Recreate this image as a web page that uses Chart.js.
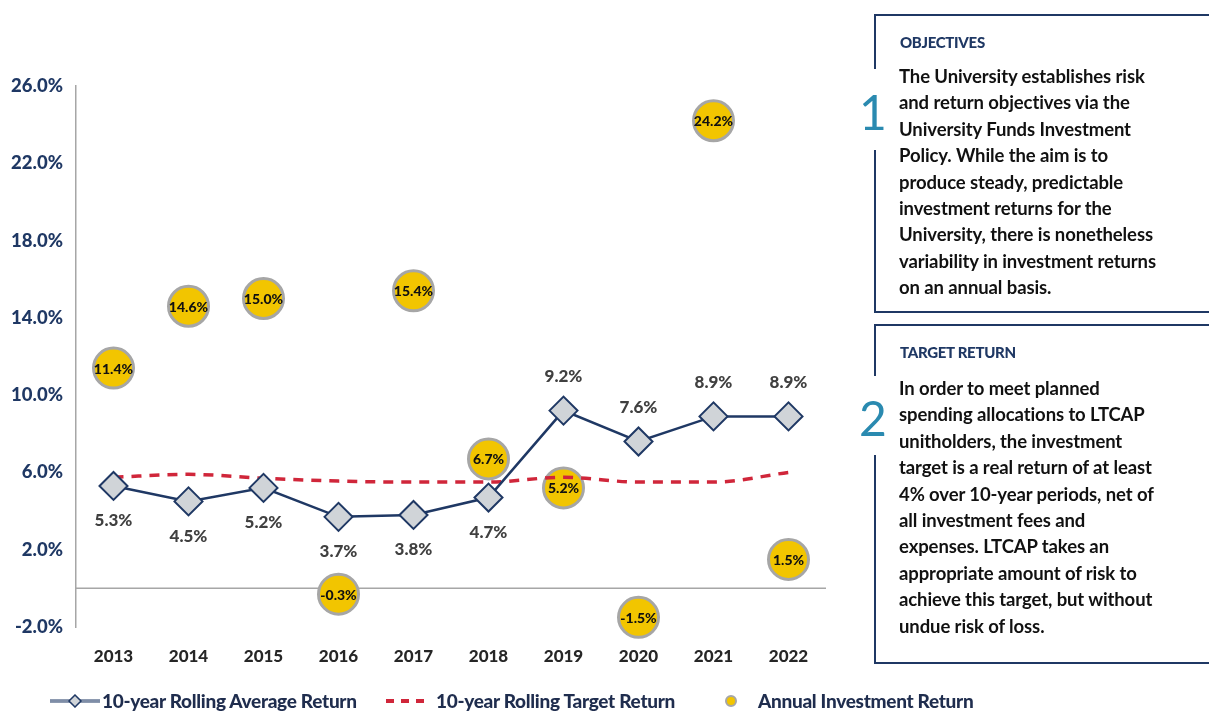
<!DOCTYPE html>
<html>
<head>
<meta charset="utf-8">
<script src="https://cdn.jsdelivr.net/npm/chart.js@4.4.0/dist/chart.umd.min.js"></script>
<style>
  html, body { margin: 0; padding: 0; background: #fff; }
  #wrap { position: relative; width: 1209px; height: 719px; overflow: hidden; font-family: Lato, "Open Sans", sans-serif; }
  #chart { position: absolute; left: 0; top: 0; }
  .box { position: absolute; left: 874px; width: 335px; border-top: 2px solid #1f3864; border-bottom: 2px solid #1f3864; box-sizing: border-box; }
  .edge { position: absolute; left: 874px; width: 2px; background: #1f3864; }
  .head { position: absolute; left: 900px; font-weight: 900; font-size: 15px; color: #1f3864; letter-spacing: -0.3px; }
  .body { position: absolute; left: 899px; font-weight: 700; font-size: 18.5px; line-height: 26.4px; color: #111; white-space: nowrap; letter-spacing: -0.1px; }
  .num { position: absolute; font-weight: 400; font-size: 48px; color: #2a8ab0; }
  .legend { position: absolute; top: 689px; font-weight: 900; font-size: 19px; color: #1f2d4e; white-space: nowrap; letter-spacing: -0.3px; }
</style>
</head>
<body>
<div id="wrap">
  <canvas id="chart" width="1209" height="719"></canvas>

  <div class="box" style="top:14px;height:299px;border-left:none;"></div>
  <div class="edge" style="top:14px;height:55px;"></div>
  <div class="edge" style="top:150px;height:163px;"></div>
  <div class="head" style="top:33px;">OBJECTIVES</div>
  <div class="num" style="left:859px;top:83px;">1</div>
  <div class="body" style="top:63px;">The University establishes risk<br>and return objectives via the<br>University Funds Investment<br>Policy. While the aim is to<br>produce steady, predictable<br>investment returns for the<br>University, there is nonetheless<br>variability in investment returns<br>on an annual basis.</div>

  <div class="box" style="top:324px;height:340px;"></div>
  <div class="edge" style="top:324px;height:52px;"></div>
  <div class="edge" style="top:455px;height:209px;"></div>
  <div class="head" style="top:343px;">TARGET RETURN</div>
  <div class="num" style="left:859px;top:389px;">2</div>
  <div class="body" style="top:375px;">In order to meet planned<br>spending allocations to LTCAP<br>unitholders, the investment<br>target is a real return of at least<br>4% over 10-year periods, net of<br>all investment fees and<br>expenses. LTCAP takes an<br>appropriate amount of risk to<br>achieve this target, but without<br>undue risk of loss.</div>

  <div class="legend" style="left:50px;">
    <svg width="52" height="14" style="vertical-align:0px"><line x1="0" y1="7" x2="50" y2="7" stroke="#1f3864" stroke-width="3"/><line x1="0" y1="7" x2="50" y2="7" stroke="#dfe3ea" stroke-width="1"/><polygon points="25,1 31,7 25,13 19,7" fill="#d0d4d8" stroke="#1f3864" stroke-width="1.5"/></svg>10-year Rolling Average Return
  </div>
  <div class="legend" style="left:384px;">
    <svg width="52" height="14" style="vertical-align:0px"><line x1="2" y1="7" x2="44" y2="7" stroke="#d0263a" stroke-width="4" stroke-dasharray="8,7"/></svg>10-year Rolling Target Return
  </div>
  <div class="legend" style="left:722px;">
    <svg width="36" height="14" style="vertical-align:0px"><circle cx="9" cy="7" r="5" fill="#f2c500" stroke="#a6a6a6" stroke-width="2"/></svg>Annual Investment Return
  </div>
</div>

<script>
const years = ['2013', '2014', '2015', '2016', '2017', '2018', '2019', '2020', '2021', '2022'];
const rollingAverage = [5.3, 4.5, 5.2, 3.7, 3.8, 4.7, 9.2, 7.6, 8.9, 8.9];
const rollingTarget = [5.75, 5.9, 5.7, 5.55, 5.5, 5.5, 5.75, 5.5, 5.5, 6.0];
const annualReturn = [11.4, 14.6, 15.0, -0.3, 15.4, 6.7, 5.2, -1.5, 24.2, 1.5];
const avgLabelAbove = [false, false, false, false, false, false, true, true, true, true];

const pct = v => v.toFixed(1) + '%';

const overlay = {
    id: 'overlay',
    beforeDatasetsDraw(chart) {
        const ctx = chart.ctx;
        const area = chart.chartArea;
        const y0 = chart.scales.y.getPixelForValue(0);
        ctx.save();
        ctx.strokeStyle = '#a6a6a6';
        ctx.lineWidth = 1.5;
        ctx.beginPath();
        ctx.moveTo(area.left, y0);
        ctx.lineTo(area.right, y0);
        ctx.stroke();
        ctx.restore();
    },
    afterDatasetsDraw(chart) {
        const ctx = chart.ctx;
        ctx.save();
        ctx.textAlign = 'center';
        ctx.textBaseline = 'middle';

        // annual bubbles
        ctx.font = '900 14px Lato, sans-serif';
        ctx.fillStyle = '#111';
        chart.getDatasetMeta(2).data.forEach((pt, i) => {
            ctx.fillText(pct(annualReturn[i]), pt.x, pt.y + 1);
        });

        // rolling average labels
        ctx.font = '900 17px Lato, sans-serif';
        ctx.fillStyle = '#404040';
        chart.getDatasetMeta(0).data.forEach((pt, i) => {
            const dy = avgLabelAbove[i] ? -34 : 35;
            ctx.fillText(pct(rollingAverage[i]), pt.x, pt.y + dy);
        });
        ctx.restore();
    }
};

const ctx = document.getElementById('chart').getContext('2d');
new Chart(ctx, {
    type: 'line',
    data: {
        labels: years,
        datasets: [
            {
                label: '10-year Rolling Average Return',
                data: rollingAverage,
                borderColor: '#1f3864',
                borderWidth: 2.5,
                pointStyle: 'rectRot',
                pointRadius: 14,
                pointBackgroundColor: '#d0d4d8',
                pointBorderColor: '#1f3864',
                pointBorderWidth: 2,
                tension: 0,
                clip: false,
                order: 1
            },
            {
                label: '10-year Rolling Target Return',
                data: rollingTarget,
                borderColor: '#d0263a',
                borderWidth: 3.5,
                borderDash: [10, 8],
                pointRadius: 0,
                tension: 0.4,
                cubicInterpolationMode: 'monotone',
                clip: false,
                order: 2
            },
            {
                label: 'Annual Investment Return',
                data: annualReturn,
                showLine: false,
                pointRadius: 20,
                pointBackgroundColor: '#f2c500',
                pointBorderColor: '#a6a6a6',
                pointBorderWidth: 3,
                clip: false,
                order: 3
            }
        ]
    },
    options: {
        responsive: false,
        animation: false,
        layout: { padding: { top: 86, right: 383, bottom: 0, left: 0 } },
        plugins: {
            legend: { display: false },
            tooltip: { enabled: false }
        },
        scales: {
            x: {
                offset: true,
                grid: { display: false, drawTicks: false },
                border: { display: false },
                ticks: {
                    padding: 19,
                    color: '#262626',
                    font: { family: 'Lato', size: 17, weight: '900' }
                },
                afterFit: s => { s.height = 92; }
            },
            y: {
                min: -2,
                max: 26,
                grid: { display: false, drawTicks: false },
                border: { display: true, color: '#a6a6a6', width: 1.5 },
                ticks: {
                    stepSize: 4,
                    padding: 13,
                    color: '#1f3864',
                    font: { family: 'Lato', size: 18.5, weight: '900' },
                    callback: v => pct(v)
                },
                afterFit: s => { s.width = 76; }
            }
        }
    },
    plugins: [overlay]
});
</script>
</body>
</html>
